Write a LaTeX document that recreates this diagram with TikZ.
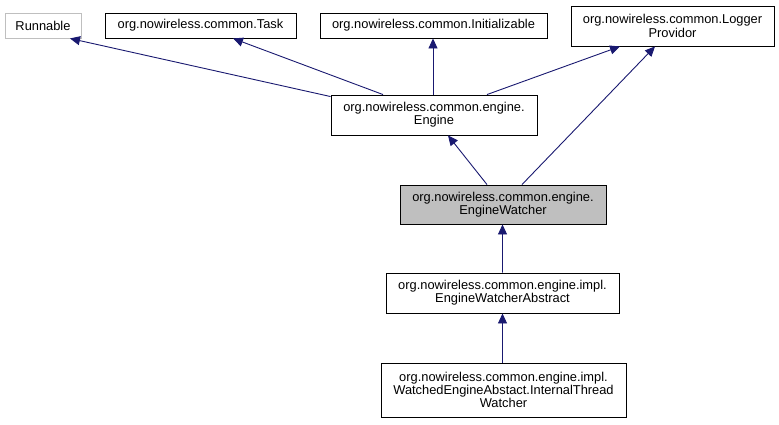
\documentclass[tikz,border=0pt]{standalone}
\usepackage{fontspec}
\setmainfont{Liberation Sans}
\usetikzlibrary{arrows.meta}
\definecolor{edgeblue}{HTML}{191970}
\definecolor{boxgray}{HTML}{BFBFBF}
\tikzset{
  cls/.style={draw=black, line width=0.9bp, fill=white, inner sep=0pt, align=center,
    font=\fontsize{12.9}{13.3}\selectfont},
  ext/.style={cls, draw=boxgray},
  cur/.style={cls, fill=boxgray},
  inh/.style={draw=edgeblue, line width=0.9bp, -{Triangle[length=10bp,width=9bp]}}
}
\begin{document}
\begin{tikzpicture}[x=1bp,y=-1bp]
\useasboundingbox (0,0) rectangle (779,424);
\node[ext, minimum width=76bp, minimum height=25bp] (run) at (43,25.5) {Runnable};
\node[cls, minimum width=191bp, minimum height=25bp] (task) at (200.5,25.5) {org.nowireless.common.Task};
\node[cls, minimum width=227bp, minimum height=25bp] (init) at (433.5,25.5) {org.nowireless.common.Initializable};
\node[cls, minimum width=203bp, minimum height=40bp] (log) at (672.5,26) {org.nowireless.common.Logger\\Providor};
\node[cls, minimum width=206bp, minimum height=40bp] (eng) at (434,115) {org.nowireless.common.engine.\\Engine};
\node[cur, minimum width=206bp, minimum height=39bp] (ew) at (503,204.5) {org.nowireless.common.engine.\\EngineWatcher};
\node[cls, minimum width=233bp, minimum height=40bp] (ewa) at (502.5,293) {org.nowireless.common.engine.impl.\\EngineWatcherAbstract};
\node[cls, minimum width=245bp, minimum height=54bp] (itw) at (503.5,390) {org.nowireless.common.engine.impl.\\WatchedEngineAbstact.InternalThread\\Watcher};

\draw[inh] ([yshift=-2bp]eng.north west) -- ([xshift=27bp]run.south);
\draw[inh] ([xshift=-51bp]eng.north) -- ([xshift=32.5bp]task.south);
\draw[inh] ([xshift=-1bp]eng.north) -- ([xshift=-0.5bp]init.south);
\draw[inh] ([xshift=53bp]eng.north) -- ([xshift=-52.5bp]log.south);
\draw[inh] ([xshift=-16bp]ew.north) -- ([xshift=14bp]eng.south);
\draw[inh] ([xshift=19bp]ew.north) -- ([xshift=-17.5bp]log.south);
\draw[inh] (ewa.north) -- ([xshift=-0.5bp]ew.south);
\draw[inh] ([xshift=-1bp]itw.north) -- (ewa.south);
\end{tikzpicture}
\end{document}
